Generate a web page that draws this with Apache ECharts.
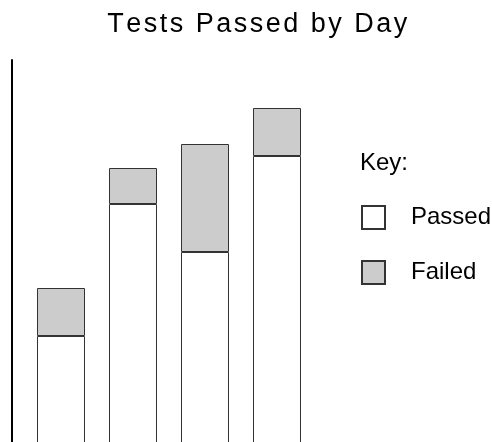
<!DOCTYPE html>
<html>
<head>
<meta charset="utf-8">
<script src="https://cdn.jsdelivr.net/npm/echarts@6/dist/echarts.min.js"></script>
<style>html,body{margin:0;padding:0;background:#fff}#c{width:492px;height:442px}</style>
</head>
<body>
<div id="c"></div>
<script>
const titleText = 'Tests Passed by Day';
const keyText = 'Key:';
const categories = ['Day 1', 'Day 2', 'Day 3', 'Day 4'];
const seriesNames = ['Passed', 'Failed'];
const passed = [31, 64, 52, 76];
const failed = [12, 9, 27, 12];

const FONT = "'Liberation Sans', Arial, sans-serif";

function spaced(str, key) {
  return str.split('').map(function (ch) { return '{' + key + '|' + ch + '}'; }).join('');
}

const chart = echarts.init(document.getElementById('c'), null, { renderer: 'canvas' });
chart.setOption({
  animation: false,
  backgroundColor: '#fff',
  title: [
    {
      text: spaced(titleText, 't'),
      left: 106,
      top: 11,
      padding: 0,
      textStyle: {
        fontWeight: 'normal',
        rich: {
          t: { fontFamily: FONT, fontSize: 27, fontWeight: 'normal', color: '#000', padding: [0, 1.25, 0, 1.25] }
        }
      }
    },
    {
      text: keyText,
      left: 360,
      top: 151,
      padding: 0,
      textStyle: { fontFamily: FONT, fontSize: 24, fontWeight: 'normal', color: '#000' }
    }
  ],
  legend: {
    orient: 'vertical',
    left: 361,
    top: 205,
    padding: 0,
    icon: 'rect',
    itemWidth: 23,
    itemHeight: 23,
    itemGap: 30,
    data: seriesNames,
    textStyle: {
      fontFamily: FONT,
      fontSize: 24,
      color: '#000',
      padding: [0, 0, 0, 21]
    }
  },
  grid: { left: 25, top: 60, width: 288, height: 400, containLabel: false, outerBoundsMode: 'none' },
  xAxis: {
    type: 'category',
    data: categories,
    axisLine: { show: false },
    axisTick: { show: false },
    axisLabel: { show: false },
    splitLine: { show: false }
  },
  yAxis: {
    type: 'value',
    min: 0,
    max: 100,
    offset: 13,
    axisLine: { show: true, lineStyle: { color: '#000', width: 2 } },
    axisTick: { show: false },
    axisLabel: { show: false },
    splitLine: { show: false }
  },
  series: [
    {
      name: seriesNames[0],
      type: 'bar',
      stack: 'total',
      data: passed,
      barWidth: 48,
      itemStyle: { color: '#ffffff', borderColor: '#333', borderWidth: 1 }
    },
    {
      name: seriesNames[1],
      type: 'bar',
      stack: 'total',
      data: failed,
      barWidth: 48,
      itemStyle: { color: '#cccccc', borderColor: '#333', borderWidth: 1 }
    }
  ]
});
</script>
</body>
</html>
